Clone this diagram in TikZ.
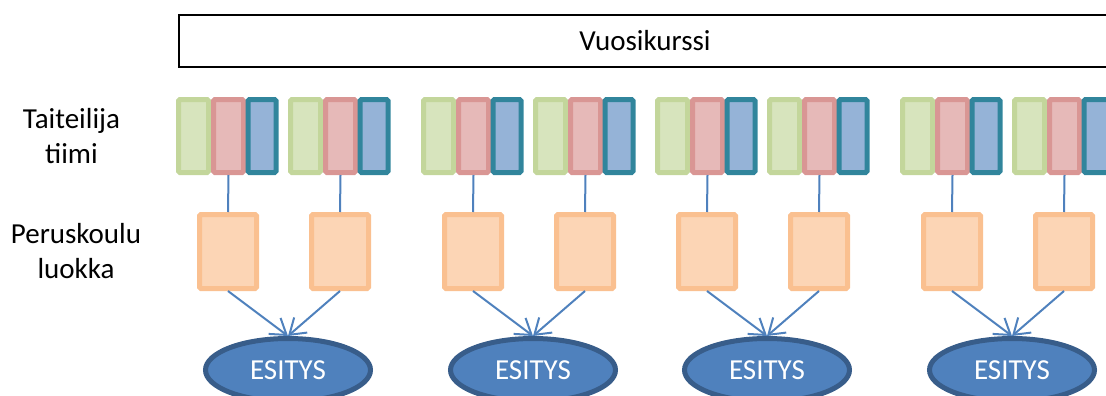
\documentclass[tikz,border=0pt]{standalone}
\usepackage{fontspec}
\setmainfont{Carlito}
\usetikzlibrary{shapes.geometric, arrows.meta}

\definecolor{vihreareuna}{HTML}{C3D69B}
\definecolor{vihreatausta}{HTML}{D7E4BD}
\definecolor{punainenreuna}{HTML}{D99694}
\definecolor{punainentausta}{HTML}{E6B9B8}
\definecolor{sininenreuna}{HTML}{31859C}
\definecolor{sinisentausta}{HTML}{95B3D7}
\definecolor{oranssireuna}{HTML}{FAC090}
\definecolor{oranssitausta}{HTML}{FCD5B5}
\definecolor{esitysreuna}{HTML}{385D8A}
\definecolor{esitystausta}{HTML}{4F81BD}

\tikzset{
	teksti/.style={font=\fontsize{29}{35}\selectfont},
	palikka/.style={rectangle, rounded corners=1.5pt, line width=5pt, minimum width=30pt, minimum height=73pt, inner sep=0pt},
	vihrea/.style={palikka, draw=vihreareuna, fill=vihreatausta},
	punainen/.style={palikka, draw=punainenreuna, fill=punainentausta},
	sininen/.style={palikka, draw=sininenreuna, fill=sinisentausta, minimum width=28pt},
	luokka/.style={rectangle, rounded corners=1.5pt, line width=5pt, draw=oranssireuna, fill=oranssitausta, minimum width=57pt, minimum height=74pt, inner sep=0pt},
	esitys/.style={teksti, ellipse, line width=5pt, draw=esitysreuna, fill=esitystausta, text=white, minimum width=165pt, minimum height=63pt, inner sep=0pt},
	yhteys/.style={draw=esitystausta, line width=2pt},
	nuoli/.style={yhteys, -{Straight Barb[length=15pt,width=20pt]}}
}

\begin{document}
\begin{tikzpicture}[x=1pt, y=-1pt]
	\useasboundingbox (0,0) rectangle (1106,396);
	\clip (0,0) rectangle (1106,396);

	\node[teksti, draw=black, line width=2pt, minimum width=932pt, minimum height=52pt] (vuosikurssi) at (645,41) {Vuosikurssi};

	\node[teksti, align=center] (taiteilijat) at (71.5,136.5) {Taiteilija\\tiimi};
	\node[teksti, align=center] (peruskoulu) at (76,251.5) {Peruskoulu\\luokka};

	% kaksi tiimia ja kaksi luokkaa kutakin esitysta kohti
	\foreach \s [count=\p] in {176,421,655,900}{
		\node[esitys] (esitys\p) at (\s+112,370) {ESITYS};
		\foreach \k in {0,1}{
			\pgfmathsetmacro\gx{\s+112*\k}
			\node[vihrea] (vihrea\p\k) at (\gx+17.5,136) {};
			\node[punainen] (punainen\p\k) at (\gx+52.5,136) {};
			\node[sininen] (sininen\p\k) at (\gx+86,136) {};
			\node[luokka] (luokka\p\k) at (\gx+52,251.5) {};
			\draw[yhteys] (punainen\p\k.south) -- (luokka\p\k.north);
			\draw[nuoli] (luokka\p\k.south) -- (esitys\p.north);
		}
	}
\end{tikzpicture}
\end{document}
